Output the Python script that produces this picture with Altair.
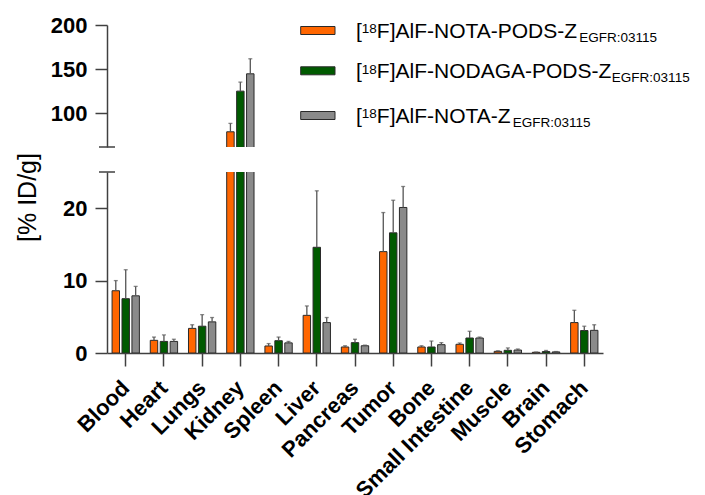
import altair as alt
import pandas as pd

# ---------------- data ----------------
organs = ["Blood", "Heart", "Lungs", "Kidney", "Spleen", "Liver", "Pancreas",
          "Tumor", "Bone", "Small Intestine", "Muscle", "Brain", "Stomach"]

series = ["[18F]AlF-NOTA-PODS-Z EGFR:03115",
          "[18F]AlF-NODAGA-PODS-Z EGFR:03115",
          "[18F]AlF-NOTA-Z EGFR:03115"]

legend_main = ["F]AlF-NOTA-PODS-Z", "F]AlF-NODAGA-PODS-Z", "F]AlF-NOTA-Z"]
legend_sub = ["EGFR:03115", "EGFR:03115", "EGFR:03115"]

mean_nota_pods = [8.6, 1.75, 3.4, 79.2, 0.97, 5.2, 0.83, 14.0, 0.83, 1.2, 0.23, 0.10, 4.2]
sd_nota_pods   = [1.4, 0.45, 0.5, 9.5, 0.33, 1.3, 0.17, 5.4, 0.17, 0.18, 0.07, 0.03, 1.7]
mean_nodaga    = [7.5, 1.6, 3.7, 125.2, 1.7, 14.6, 1.43, 16.6, 0.83, 2.07, 0.37, 0.20, 3.1]
sd_nodaga      = [4.0, 0.9, 1.6, 10.2, 0.5, 7.8, 0.47, 4.5, 0.82, 0.93, 0.33, 0.15, 0.6]
mean_nota      = [7.9, 1.6, 4.3, 144.8, 1.4, 4.2, 1.0, 20.1, 1.15, 2.07, 0.41, 0.15, 3.13]
sd_nota        = [1.3, 0.3, 0.6, 17.0, 0.2, 0.7, 0.08, 2.9, 0.28, 0.13, 0.14, 0.05, 0.77]

colors = ["#FF6600", "#005A00", "#8A8A8A"]

rows = []
for s, means, sds in zip(series, [mean_nota_pods, mean_nodaga, mean_nota],
                         [sd_nota_pods, sd_nodaga, sd_nota]):
    for o, m, sd in zip(organs, means, sds):
        rows.append({"organ": o, "series": s, "mean": m, "upper": m + sd})
df = pd.DataFrame(rows)

# ---------------- styling ----------------
FONT = "Liberation Sans"
AX = "#404040"
W = 496
H_TOP = 122
H_BOT = 181

xscale = alt.Scale(domain=organs, paddingInner=0.22, paddingOuter=0.1)
xoff = alt.XOffset("series:N", sort=series,
                   scale=alt.Scale(domain=series, paddingInner=0.25, paddingOuter=0.125))
color = alt.Color("series:N", scale=alt.Scale(domain=series, range=colors), legend=None)


def panel(data, ydomain, yvalues, height, bottom):
    common_y = dict(values=yvalues, tickSize=12, tickColor=AX, tickWidth=1.5,
                    domainColor=AX, domainWidth=1.5, labelFont=FONT,
                    labelFontWeight="bold", labelFontSize=22, labelColor="black",
                    labelPadding=8, grid=False)
    if bottom:
        xaxis = alt.Axis(labelAngle=-45, labelAlign="right", labelBaseline="middle",
                         labelFont=FONT, labelFontWeight="bold",
                         labelFontSize=22, labelColor="black", tickSize=13,
                         tickColor=AX, tickWidth=1.5, domainColor=AX, domainWidth=1.5,
                         labelPadding=18, labelOffset=0, title=None)
        yaxis = alt.Axis(title="[% ID/g]",
                         titleFont=FONT, titleFontSize=25, titleFontWeight="normal",
                         titleColor="black", titleAngle=270, titleX=-80, titleY=25,
                         titleAlign="center", titleBaseline="middle", **common_y)
    else:
        xaxis = None
        yaxis = alt.Axis(title=None, **common_y)
    x = alt.X("organ:N", sort=organs, scale=xscale, axis=xaxis)
    yscale = alt.Scale(domain=ydomain, zero=False, nice=False)
    base = alt.Chart(data)
    bars = base.mark_bar(stroke="#2a2a2a", strokeWidth=1, clip=True).encode(
        x=x, xOffset=xoff, y=alt.Y("mean:Q", scale=yscale, axis=yaxis), color=color)
    err = base.mark_rule(color="#555555", strokeWidth=1.3, clip=True).encode(
        x=x, xOffset=xoff, y="mean:Q", y2="upper:Q")
    caps = base.mark_tick(color="#555555", thickness=1.3, size=4, clip=True).encode(
        x=x, xOffset=xoff, y="upper:Q")
    brk = alt.Chart(pd.DataFrame({"k": [0]})).mark_rule(color=AX, strokeWidth=1.5).encode(
        x=alt.value(-8), x2=alt.value(8), y=alt.value(0 if bottom else height))
    return [bars, err, caps, brk]


# Arial / Liberation Sans advance widths (units per 1000)
AW = {"[": 278, "]": 278, "F": 611, "A": 667, "l": 222, "N": 722, "O": 778, "T": 611,
      "P": 667, "D": 722, "S": 667, "Z": 611, "G": 778, "-": 333, "E": 667, "R": 722,
      ":": 278, "0": 556, "1": 556, "3": 556, "5": 556, "8": 556}


def tw(s, size):
    return sum(AW.get(c, 556) for c in s) * size / 1000.0


MAIN_FS = 21
SMALL_FS = 13.5
row_centers = [5.5, 45.8, 90.5]
legend_layers = []
one = pd.DataFrame({"k": [0]})
for i in range(3):
    c = row_centers[i]
    legend_layers.append(alt.Chart(one).mark_rect(fill=colors[i], stroke="#2a2a2a", strokeWidth=1).encode(
        x=alt.value(193.7), x2=alt.value(228), y=alt.value(c - 4), y2=alt.value(c + 4)))
    x0 = 249
    xs = x0 + tw("[", MAIN_FS)
    xm = xs + tw("18", SMALL_FS)
    xb = xm + tw(legend_main[i], MAIN_FS) + 0.5
    for txt, xx, yy, fs in [("[", x0, c + 7.5, MAIN_FS), ("18", xs, c + 2.8, SMALL_FS),
                            (legend_main[i], xm, c + 7.5, MAIN_FS),
                            (legend_sub[i], xb, c + 11.5, SMALL_FS)]:
        legend_layers.append(alt.Chart(one).mark_text(
            text=txt, font=FONT, fontSize=fs, color="black", align="left",
            baseline="alphabetic").encode(x=alt.value(xx), y=alt.value(yy)))

top = alt.layer(*panel(df[df["mean"] > 62], [62, 200], [100, 150, 200], H_TOP, False),
                *legend_layers).properties(width=W, height=H_TOP)
bottom = alt.layer(*panel(df, [0, 25], [0, 10, 20], H_BOT, True)).properties(width=W, height=H_BOT)

chart = alt.vconcat(top, bottom, spacing=25, bounds="flush").properties(
    padding={"left": 7, "top": 6, "right": 5, "bottom": 5},
    background="white"
).configure_view(strokeWidth=0)

chart.save("out.html", embed_options={"renderer": "svg", "actions": False})
